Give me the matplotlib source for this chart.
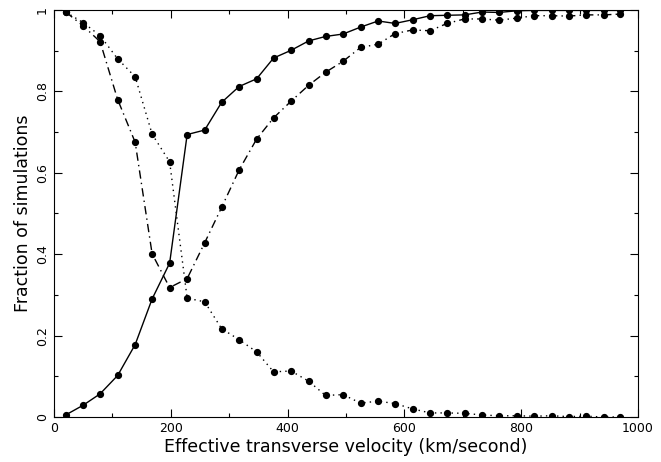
import numpy as np
import matplotlib.pyplot as plt
from matplotlib.ticker import MultipleLocator, FixedLocator


# velocities (km/s)
velocity = [20, 50, 79, 109, 139, 168, 198, 228, 258, 287, 317, 347, 376,
            406, 436, 465, 495, 525, 555, 584, 614, 644, 673, 703, 733, 762,
            792, 822, 852, 881, 911, 941, 970]

# solid curve (rising)
solid = [0.005, 0.029, 0.057, 0.102, 0.178, 0.290, 0.378, 0.694, 0.705,
         0.773, 0.812, 0.831, 0.882, 0.901, 0.924, 0.935, 0.941, 0.958,
         0.973, 0.967, 0.976, 0.986, 0.987, 0.988, 0.995, 0.994, 0.998,
         0.999, 0.999, 0.999, 0.999, 0.999, 0.999]

# dash-dot curve (dips then rises)
dashdot = [0.995, 0.961, 0.922, 0.780, 0.675, 0.401, 0.318, 0.340, 0.428,
           0.515, 0.607, 0.683, 0.735, 0.776, 0.815, 0.847, 0.874, 0.908,
           0.916, 0.942, 0.951, 0.949, 0.967, 0.978, 0.978, 0.975, 0.980,
           0.986, 0.986, 0.985, 0.988, 0.988, 0.990]

# dotted curve (falling)
dotted = [0.995, 0.969, 0.937, 0.880, 0.836, 0.695, 0.627, 0.292, 0.283,
          0.217, 0.190, 0.160, 0.111, 0.113, 0.088, 0.053, 0.055, 0.034,
          0.039, 0.033, 0.020, 0.010, 0.010, 0.009, 0.005, 0.003, 0.003,
          0.002, 0.003, 0.001, 0.002, 0.000, 0.000]

x_ticks = [0, 200, 400, 600, 800, 1000]
y_ticks = [0, 0.2, 0.4, 0.6, 0.8, 1]


fig = plt.figure(figsize=(6.61, 4.62), dpi=100)
ax = fig.add_axes([54/661, 1-417/462, (638-54)/661, (417-10)/462])

style = dict(color='black', marker='o', markersize=4.2, linewidth=1)
ax.plot(velocity, solid, linestyle='-', **style)
ax.plot(velocity, dashdot, linestyle=(0, (6, 3, 1, 3)), **style)
ax.plot(velocity, dotted, linestyle=(0, (1, 3)), **style)

ax.set_xlim(0, 1000)
ax.set_ylim(0, 1)

#ticks inside on every side, like the old pgplot look
ax.xaxis.set_major_locator(FixedLocator(x_ticks))
ax.xaxis.set_minor_locator(MultipleLocator(100))
ax.yaxis.set_major_locator(FixedLocator(y_ticks))
ax.yaxis.set_minor_locator(MultipleLocator(0.1))
ax.tick_params(which='both', direction='in', top=True, right=True)
ax.tick_params(which='major', length=6, width=0.8, labelsize=9)
ax.tick_params(which='minor', length=3, width=0.8)
ax.set_xticklabels([str(t) for t in x_ticks])
ax.set_yticklabels(['0', '0.2', '0.4', '0.6', '0.8', '1'], rotation=90,
                   va='center')

ax.set_xlabel('Effective transverse velocity (km/second)', fontsize=12.5,
              labelpad=2)
ax.set_ylabel('Fraction of simulations', fontsize=12.5, labelpad=3)

fig.savefig('out.png', dpi=100)
